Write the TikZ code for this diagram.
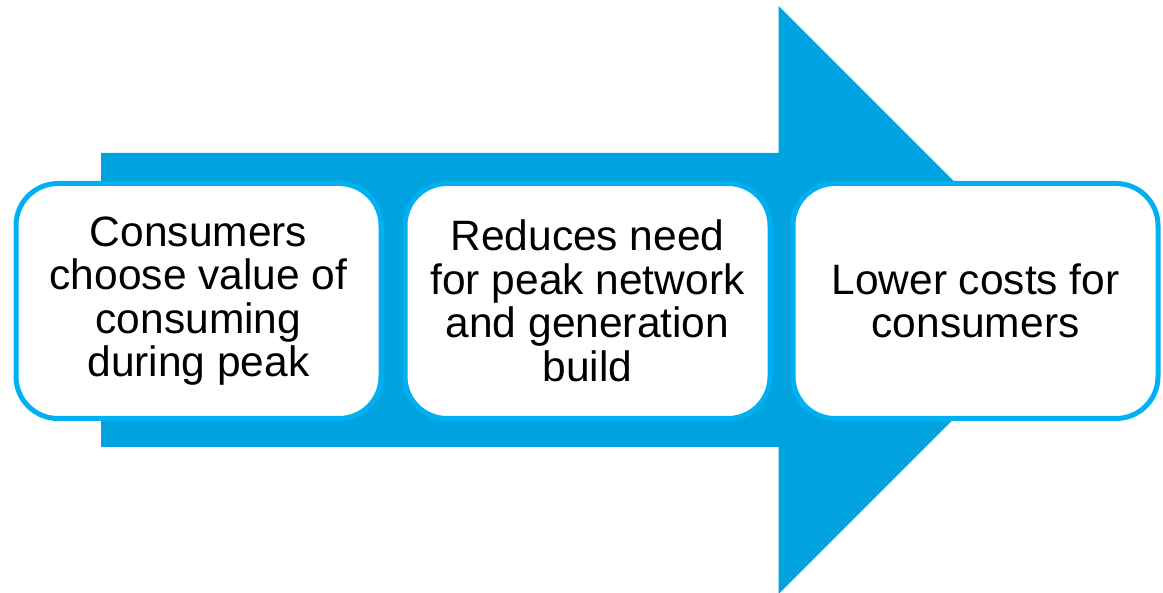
\documentclass[tikz,border=0pt]{standalone}
\usepackage{fontspec}
\setmainfont{Liberation Sans}
\definecolor{arrowblue}{RGB}{0,163,224}
\definecolor{borderblue}{RGB}{0,176,240}
\begin{document}
\begin{tikzpicture}[x=1pt,y=-1pt,
  stepbox/.style={draw=borderblue,line width=5pt,fill=white,rounded corners=42pt,
    minimum width=365pt,minimum height=235pt,inner sep=0pt,align=center,
    font=\fontsize{42.5}{43.5}\selectfont,text=black}]
\useasboundingbox (0,0) rectangle (1163,593);
\fill[arrowblue] (101,153) -- (778.5,153) -- (778.5,6) -- (1072.5,300)
  -- (778.5,594) -- (778.5,447) -- (101,447) -- cycle;
\node[stepbox] (b1) at (198.5,301) {Consumers\\choose value of\\consuming\\during peak};
\node[stepbox] (b2) at (587.5,301) {Reduces need\\for peak network\\and generation\\build};
\node[stepbox] (b3) at (975.5,301) {Lower costs for\\consumers};
\end{tikzpicture}
\end{document}
